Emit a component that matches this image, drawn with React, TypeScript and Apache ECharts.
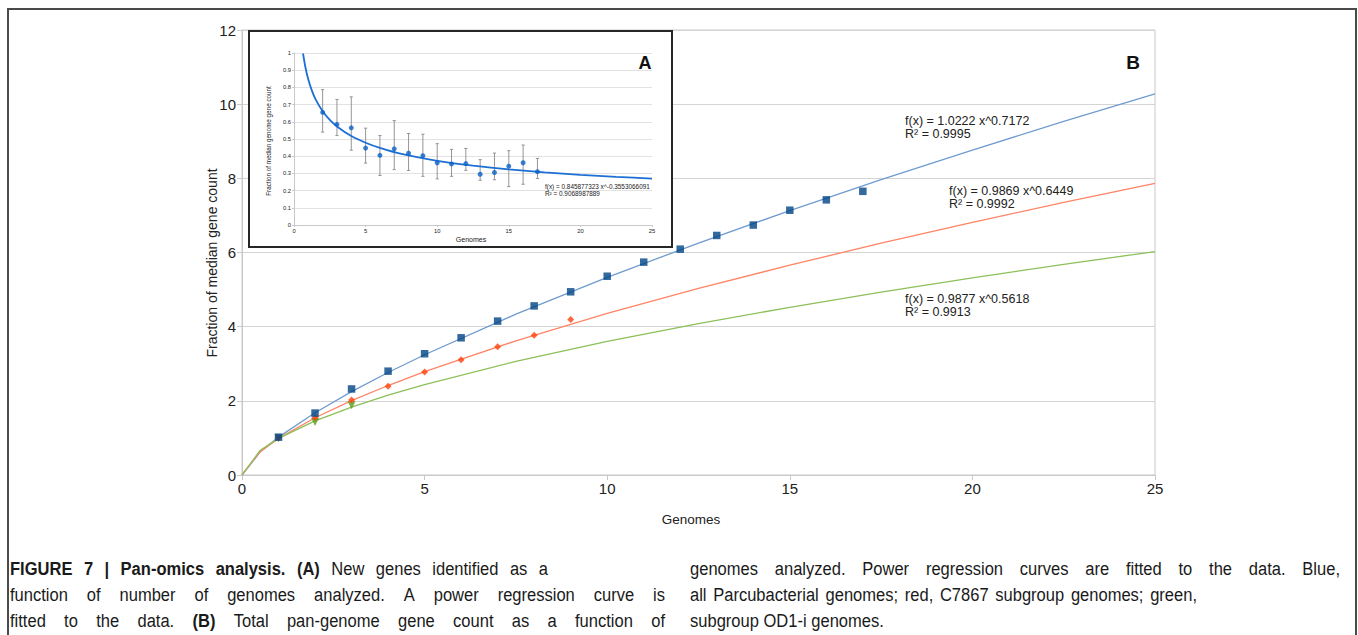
import React, { useEffect, useRef } from "react";
import * as echarts from "echarts";

// ---------- data ----------
const genomesAll = [1, 2, 3, 4, 5, 6, 7, 8, 9, 10, 11, 12, 13, 14, 15, 16, 17];
const countAll = [1.02, 1.67, 2.32, 2.8, 3.27, 3.7, 4.15, 4.56, 4.94, 5.36, 5.74, 6.09, 6.46, 6.74, 7.14, 7.42, 7.65];
const genomesC7867 = [1, 2, 3, 4, 5, 6, 7, 8, 9];
const countC7867 = [1.0, 1.55, 2.02, 2.39, 2.78, 3.11, 3.46, 3.77, 4.19];
const genomesOD1 = [1, 2, 3];
const countOD1 = [0.99, 1.43, 1.88];

const fitX = [0, 0.5, 1, 2, 3, 4, 5, 7.5, 10, 12.5, 15, 17.5, 20, 22.5, 25];
const fitAll = [0, 0.622, 1.022, 1.68, 2.248, 2.763, 3.242, 4.337, 5.33, 6.255, 7.129, 7.963, 8.763, 9.535, 10.28];
const fitC7867 = [0, 0.631, 0.987, 1.543, 2.004, 2.413, 2.786, 3.619, 4.357, 5.031, 5.659, 6.25, 6.813, 7.351, 7.867];
const fitOD1 = [0, 0.669, 0.988, 1.458, 1.831, 2.152, 2.44, 3.064, 3.601, 4.082, 4.522, 4.931, 5.316, 5.679, 6.026];

const formulaAll = ["f(x) = 1.0222 x^0.7172", "R² = 0.9995"];
const formulaC7867 = ["f(x) = 0.9869 x^0.6449", "R² = 0.9992"];
const formulaOD1 = ["f(x) = 0.9877 x^0.5618", "R² = 0.9913"];

const insetX = [2, 3, 4, 5, 6, 7, 8, 9, 10, 11, 12, 13, 14, 15, 16, 17];
const insetMean = [0.655, 0.585, 0.565, 0.447, 0.405, 0.443, 0.417, 0.403, 0.362, 0.355, 0.357, 0.295, 0.305, 0.342, 0.362, 0.31];
const insetLow = [0.54, 0.52, 0.435, 0.36, 0.288, 0.322, 0.317, 0.283, 0.268, 0.283, 0.318, 0.26, 0.263, 0.223, 0.237, 0.27];
const insetHigh = [0.787, 0.73, 0.745, 0.563, 0.52, 0.607, 0.532, 0.528, 0.473, 0.44, 0.445, 0.38, 0.418, 0.432, 0.465, 0.387];
const insetFitX = [0.63, 0.8, 1, 1.25, 1.5, 2, 2.5, 3, 4, 5, 6, 7.5, 10, 12.5, 15, 17.5, 20, 22.5, 25];
const insetFitY = [0.997, 0.916, 0.846, 0.781, 0.732, 0.661, 0.611, 0.573, 0.517, 0.478, 0.448, 0.413, 0.373, 0.345, 0.323, 0.306, 0.292, 0.28, 0.27];
const insetFormula = ["f(x) = 0.845877323 x^-0.3553066091", "R² = 0.9068987889"];

const captionLeft: [string, boolean][][] = [
  [["FIGURE 7 | Pan-omics analysis. (A)", true], ["New genes identified as a", false]],
  [["function of number of genomes analyzed. A power regression curve is", false]],
  [["fitted to the data.", false], ["(B)", true], ["Total pan-genome gene count as a function of", false]],
];
const captionRight: [string, boolean][][] = [
  [["genomes analyzed. Power regression curves are fitted to the data. Blue,", false]],
  [["all Parcubacterial genomes; red, C7867 subgroup genomes; green,", false]],
  [["subgroup OD1-i genomes.", false]],
];

// ---------- helpers ----------
const FONT = "'Liberation Sans', Arial, Helvetica, sans-serif";
const CAP_FS = 19;
const CAP_SX = 0.87;

function zip(xs: number[], ys: number[]) {
  return xs.map((x, i) => [x, ys[i]]);
}

function captionElements(lines: [string, boolean][][], x0: number, ys: number[], widths: (number | null)[]) {
  const ctx = document.createElement("canvas").getContext("2d") as CanvasRenderingContext2D;
  const els: any[] = [];
  lines.forEach((segs, li) => {
    const words: { t: string; b: boolean; w: number }[] = [];
    segs.forEach(([txt, bold]) => {
      txt.split(" ").forEach((t) => {
        ctx.font = `${bold ? "bold " : ""}${CAP_FS}px ${FONT}`;
        words.push({ t, b: bold, w: ctx.measureText(t).width * CAP_SX });
      });
    });
    ctx.font = `${CAP_FS}px ${FONT}`;
    const natGap = ctx.measureText(" ").width * CAP_SX;
    const total = words.reduce((a, w) => a + w.w, 0);
    const target = widths[li];
    let gap = natGap;
    if (target != null && words.length > 1) gap = Math.max(natGap * 0.8, (target - total) / (words.length - 1));
    let x = x0;
    words.forEach((w) => {
      els.push({
        type: "text",
        x,
        y: ys[li],
        scaleX: CAP_SX,
        style: {
          text: w.t,
          font: `${w.b ? "bold " : ""}${CAP_FS}px ${FONT}`,
          fill: "#1a1a1a",
          textAlign: "left",
          textVerticalAlign: "middle",
        },
      });
      x += w.w + gap;
    });
  });
  return els;
}

function text(x: number, y: number, t: string, size: number, opts: any = {}) {
  return {
    type: "text",
    x,
    y,
    rotation: opts.rotation || 0,
    z: opts.z ?? 10,
    style: {
      text: t,
      font: `${opts.bold ? "bold " : ""}${size}px ${FONT}`,
      fill: opts.fill || "#222",
      textAlign: opts.align || "left",
      textVerticalAlign: "middle",
    },
  };
}

export default function App() {
  const ref = useRef<HTMLDivElement>(null);

  useEffect(() => {
    document.body.style.margin = "0";
    const chart = echarts.init(ref.current as HTMLDivElement, null, { renderer: "svg" });

    const gray = "#c9c9c9";
    const labelColor = "#222";

    const option: any = {
      animation: false,
      backgroundColor: "#ffffff",
      textStyle: { fontFamily: FONT },
      grid: [
        { left: 242, right: 203, top: 30, bottom: 160, show: true, borderColor: gray, borderWidth: 1 },
        { left: 294, right: 706, top: 53, bottom: 410 },
      ],
      xAxis: [
        {
          gridIndex: 0,
          type: "value",
          min: 0,
          max: 25,
          interval: 5,
          axisLine: { show: true, lineStyle: { color: gray } },
          axisTick: { show: true, length: 5, lineStyle: { color: gray } },
          axisLabel: { color: labelColor, fontSize: 15, margin: 6, fontFamily: FONT },
          splitLine: { show: false },
        },
        {
          gridIndex: 1,
          type: "value",
          min: 0,
          max: 25,
          interval: 5,
          z: 4,
          axisLine: { show: true, lineStyle: { color: gray } },
          axisTick: { show: true, length: 2, lineStyle: { color: gray } },
          axisLabel: { color: labelColor, fontSize: 5.8, margin: 3, fontFamily: FONT },
          splitLine: { show: false },
        },
      ],
      yAxis: [
        {
          gridIndex: 0,
          type: "value",
          min: 0,
          max: 12,
          interval: 2,
          axisLine: { show: true, lineStyle: { color: gray } },
          axisTick: { show: true, length: 5, lineStyle: { color: gray } },
          axisLabel: { color: labelColor, fontSize: 15, margin: 6, fontFamily: FONT },
          splitLine: { show: true, lineStyle: { color: "#d4d4d4", width: 1 } },
        },
        {
          gridIndex: 1,
          type: "value",
          min: 0,
          max: 1,
          interval: 0.1,
          z: 4,
          axisLine: { show: true, lineStyle: { color: gray } },
          axisTick: { show: true, length: 2, lineStyle: { color: gray } },
          axisLabel: { color: labelColor, fontSize: 5.8, margin: 3, fontFamily: FONT },
          splitLine: { show: true, lineStyle: { color: "#e2e2e2", width: 1 } },
        },
      ],
      series: [
        {
          name: "fit all",
          type: "line",
          xAxisIndex: 0,
          yAxisIndex: 0,
          data: zip(fitX, fitAll),
          showSymbol: false,
          lineStyle: { color: "#6f9bcf", width: 1.3 },
          z: 2,
        },
        {
          name: "fit C7867",
          type: "line",
          xAxisIndex: 0,
          yAxisIndex: 0,
          data: zip(fitX, fitC7867),
          showSymbol: false,
          lineStyle: { color: "#ff8466", width: 1.3 },
          z: 2,
        },
        {
          name: "fit OD1",
          type: "line",
          xAxisIndex: 0,
          yAxisIndex: 0,
          data: zip(fitX, fitOD1),
          showSymbol: false,
          lineStyle: { color: "#8cc05a", width: 1.3 },
          z: 2,
        },
        {
          name: "OD1-i",
          type: "scatter",
          xAxisIndex: 0,
          yAxisIndex: 0,
          data: zip(genomesOD1, countOD1),
          symbol: "triangle",
          symbolRotate: 180,
          symbolSize: 8,
          itemStyle: { color: "#579d1c" },
          z: 3,
        },
        {
          name: "C7867",
          type: "scatter",
          xAxisIndex: 0,
          yAxisIndex: 0,
          data: zip(genomesC7867, countC7867),
          symbol: "diamond",
          symbolSize: 7,
          itemStyle: { color: "#ff420e" },
          z: 4,
        },
        {
          name: "All Parcubacteria",
          type: "scatter",
          xAxisIndex: 0,
          yAxisIndex: 0,
          data: zip(genomesAll, countAll),
          symbol: "rect",
          symbolSize: 7.5,
          itemStyle: { color: "#004586" },
          z: 5,
        },
        {
          name: "inset error",
          type: "custom",
          xAxisIndex: 1,
          yAxisIndex: 1,
          z: 6,
          data: insetX.map((x, i) => [x, insetLow[i], insetHigh[i]]),
          renderItem: (params: any, api: any) => {
            const x = api.value(0);
            const lo = api.coord([x, api.value(1)]);
            const hi = api.coord([x, api.value(2)]);
            const c = 1.6;
            const st = { stroke: "#8a8a8a", lineWidth: 0.9 };
            return {
              type: "group",
              children: [
                { type: "line", shape: { x1: lo[0], y1: lo[1], x2: hi[0], y2: hi[1] }, style: st },
                { type: "line", shape: { x1: lo[0] - c, y1: lo[1], x2: lo[0] + c, y2: lo[1] }, style: st },
                { type: "line", shape: { x1: hi[0] - c, y1: hi[1], x2: hi[0] + c, y2: hi[1] }, style: st },
              ],
            };
          },
        },
        {
          name: "inset fit",
          type: "line",
          xAxisIndex: 1,
          yAxisIndex: 1,
          data: zip(insetFitX, insetFitY),
          showSymbol: false,
          smooth: 0.2,
          lineStyle: { color: "#1c6fd4", width: 1.8 },
          z: 7,
        },
        {
          name: "inset new genes",
          type: "scatter",
          xAxisIndex: 1,
          yAxisIndex: 1,
          data: zip(insetX, insetMean),
          symbol: "circle",
          symbolSize: 5,
          itemStyle: { color: "#0a62c8" },
          z: 8,
        },
      ],
      graphic: [
        {
          type: "rect",
          z: 20,
          shape: { x: 8, y: 9, width: 1348, height: 640 },
          style: { fill: "none", stroke: "#4a4a4a", lineWidth: 2 },
        },
        {
          type: "rect",
          z: 1,
          shape: { x: 249, y: 31, width: 423, height: 216 },
          style: { fill: "#ffffff", stroke: "#262626", lineWidth: 2 },
        },
        text(212, 263, "Fraction of median gene count", 14, { rotation: Math.PI / 2, align: "center" }),
        text(691, 519, "Genomes", 13.5, { align: "center" }),
        text(1133, 62, "B", 19, { bold: true, align: "center", fill: "#111" }),
        text(905, 121, formulaAll[0], 12.5),
        text(905, 134, formulaAll[1], 12.5),
        text(949, 191, formulaC7867[0], 12.5),
        text(949, 204, formulaC7867[1], 12.5),
        text(905, 299, formulaOD1[0], 12.5),
        text(905, 312, formulaOD1[1], 12.5),
        text(268, 141, "Fraction of median genome gene count", 6.3, { rotation: Math.PI / 2, align: "center" }),
        text(471, 239, "Genomes", 7, { align: "center" }),
        text(645, 63, "A", 18, { bold: true, align: "center", fill: "#111" }),
        text(545, 186, insetFormula[0], 6.4),
        text(545, 193, insetFormula[1], 6.4),
        ...captionElements(captionLeft, 10, [569, 595, 621], [538, 655, 655]),
        ...captionElements(captionRight, 690, [569, 595, 621], [650, 507, null]),
      ],
    };

    chart.setOption(option);
    return () => chart.dispose();
  }, []);

  return <div ref={ref} style={{ width: 1358, height: 635 }} />;
}
